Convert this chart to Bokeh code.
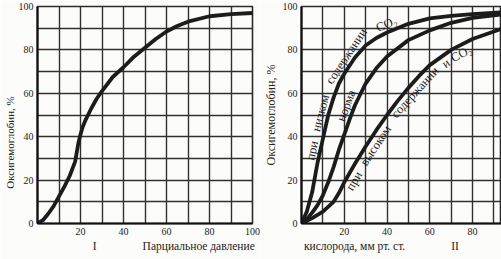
import numpy as np
from bokeh.plotting import figure
from bokeh.models import FixedTicker, Label, Range1d
from bokeh.layouts import row
from bokeh.embed import file_html
from bokeh.resources import INLINE

# ---------------- data ----------------
# Panel I: oxyhaemoglobin dissociation curve
left_p = [0, 2.5, 5, 7.5, 10, 12.5, 15, 17.5, 19, 20, 21, 22.5, 25, 27.5, 30, 35, 40, 45, 50, 55, 60, 65, 70, 80, 90, 100]
left_s = [0, 1.5, 4.5, 8, 12.5, 17, 22, 28.5, 37, 41, 44.5, 48, 53, 57.5, 61, 67.5, 72, 77, 81, 85, 88.5, 91, 93, 95.5, 96.5, 97]

# Panel II: three curves
low_p = [0, 2.5, 5, 7.5, 10, 12.5, 15, 17.5, 20, 25, 30, 35, 40, 50, 60, 70, 80, 93]
low_s = [0, 5.5, 14.5, 28, 39, 50, 58, 64.5, 69, 76.5, 82, 85.5, 88, 92, 94.5, 95.7, 96.5, 97.3]

norm_p = [0, 2.5, 5, 7.5, 10, 12.5, 15, 17.5, 20, 22.5, 25, 30, 35, 40, 50, 60, 70, 80, 93]
norm_s = [0, 2, 5, 8.5, 13, 19, 26, 34, 41, 48, 54.5, 64.5, 71.5, 77, 84.5, 89, 92.5, 94.8, 96.3]

high_p = [0, 5, 10, 15, 17.5, 20, 25, 30, 35, 40, 45, 50, 55, 60, 70, 80, 93]
high_s = [0, 2.5, 5.5, 10, 14, 19, 27.5, 35.5, 43, 50, 56.5, 62.5, 68, 73, 80, 85, 89.5]

y_ticks = [0, 20, 40, 60, 80, 100]
left_x_ticks = [20, 40, 60, 80, 100]
right_x_ticks = [20, 40, 60, 80]
grid_ticks = [0, 10, 20, 30, 40, 50, 60, 70, 80, 90, 100]

y_title = "Оксигемоглобин, %"
x_title_a = "Парциальное давление"
x_title_b = "кислорода, мм рт. ст."
panel_names = ["I", "II"]
low_words = ["при", "низком", "содержании", "СО₂"]
norm_words = ["норма"]
high_words = ["при", "высоком", "содержании", "и", "СО₂"]

FONT = "Liberation Serif"
INK = "#1c1c1c"
H = 259
NB = "\u00a0"  # non-breaking space, used only to shift axis titles along their axis


def make_fig(width, left, right, top, bottom, x_end, x_ticks):
    p = figure(width=width, height=H, x_range=Range1d(0, x_end), y_range=Range1d(0, 100),
               output_backend="svg", toolbar_location=None,
               min_border_left=left, min_border_right=right,
               min_border_top=top, min_border_bottom=bottom)
    p.background_fill_color = "#fcfcfb"
    p.border_fill_color = "#fcfcfb"
    p.outline_line_color = "#2a2a2a"
    p.outline_line_width = 1.6
    p.xgrid.ticker = FixedTicker(ticks=grid_ticks)
    p.ygrid.ticker = FixedTicker(ticks=grid_ticks)
    for g in (p.xgrid, p.ygrid):
        g.grid_line_color = "#303030"
        g.grid_line_width = 1.4
        g.grid_line_alpha = 1.0
    p.xaxis.ticker = FixedTicker(ticks=x_ticks)
    p.yaxis.ticker = FixedTicker(ticks=y_ticks)
    for ax in (p.xaxis, p.yaxis):
        ax.axis_line_color = "#111111"
        ax.axis_line_width = 2.2
        ax.major_tick_out = 0
        ax.major_tick_in = 0
        ax.minor_tick_out = 0
        ax.minor_tick_in = 0
        ax.major_label_text_font = FONT
        ax.major_label_text_font_size = "10px"
        ax.major_label_text_color = "#222222"
        ax.major_label_standoff = 4
        ax.axis_label_text_font = FONT
        ax.axis_label_text_font_style = "normal"
        ax.axis_label_text_color = "#222222"
    return p


def words_along(p, xs, ys, x_start, offset_px, words, size_px, sx, sy, char_w=0.58, gap=0.45):
    """Lay words along a curve, offset perpendicular by offset_px (screen px)."""
    xf = np.linspace(0, xs[-1], 3000)
    yf = np.interp(xf, xs, ys)
    X, Y = xf * sx, yf * sy  # screen px, y up
    dX, dY = np.gradient(X), np.gradient(Y)
    L = np.hypot(dX, dY)
    nx, ny = -dY / L, dX / L
    OX, OY = X + nx * offset_px, Y + ny * offset_px
    s = np.concatenate([[0], np.cumsum(np.hypot(np.diff(OX), np.diff(OY)))])
    s0 = np.interp(x_start * sx, X, s)
    k = 12
    for w in words:
        width = len(w) * char_w * size_px
        c = s0 + width / 2
        i = int(np.searchsorted(s, c))
        i = min(max(i, k), len(s) - 1 - k)
        ang = float(np.arctan2(OY[i + k] - OY[i - k], OX[i + k] - OX[i - k]))
        p.add_layout(Label(x=float(OX[i] / sx), y=float(OY[i] / sy), text=w, angle=ang,
                           text_font=FONT, text_font_size=f"{size_px}px", text_color="#222222",
                           text_align="center", text_baseline="middle"))
        s0 += width + gap * size_px


# ---------------- panel I ----------------
p1 = make_fig(260, 34, 8, 4, 36, 100, left_x_ticks)
p1.line(left_p, left_s, line_width=3.8, line_color=INK, line_join="round", line_cap="round")
p1.yaxis.axis_label = y_title + NB * 20
p1.yaxis.axis_label_text_font_size = "11px"
p1.yaxis.axis_label_standoff = 0
p1.xaxis.axis_label = NB * 20 + panel_names[0] + NB * 16 + x_title_a
p1.xaxis.axis_label_text_font_size = "11.5px"
p1.xaxis.axis_label_standoff = 2

# ---------------- panel II ----------------
x2_end = 203 / 21.7 * 10
p2 = make_fig(241, 38, 0, 6, 35, x2_end, right_x_ticks)
sx2, sy2 = 21.7 / 10, 218 / 100
for xs, ys in ((low_p, low_s), (norm_p, norm_s), (high_p, high_s)):
    p2.line(xs, ys, line_width=3.8, line_color=INK, line_join="round", line_cap="round")
p2.yaxis.axis_label = y_title
p2.yaxis.axis_label_text_font_size = "12px"
p2.yaxis.axis_label_standoff = 2
p2.xaxis.axis_label = x_title_b + NB * 16 + panel_names[1] + NB * 14
p2.xaxis.axis_label_text_font_size = "11.5px"
p2.xaxis.axis_label_standoff = 2
words_along(p2, low_p, low_s, 7.5, 8, low_words, 12.5, sx2, sy2)
words_along(p2, norm_p, norm_s, 21.5, 8, norm_words, 12.5, sx2, sy2)
words_along(p2, high_p, high_s, 19, -8, high_words, 12.5, sx2, sy2)

layout = row(p1, p2)
open("out.html", "w").write(file_html(layout, INLINE))
